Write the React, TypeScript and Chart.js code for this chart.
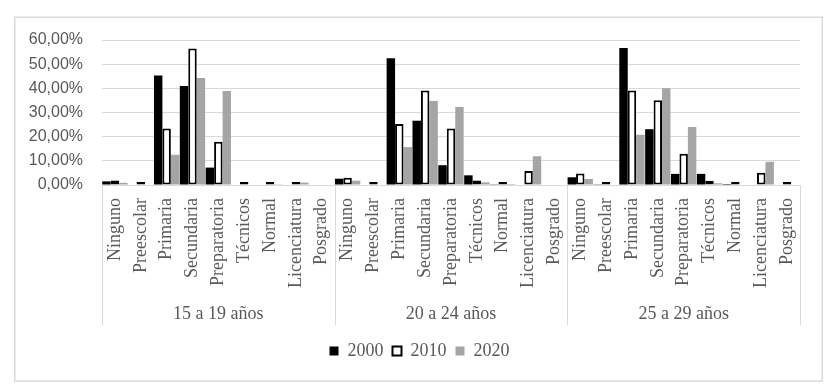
import { useEffect, useRef } from 'react';
import { Chart, registerables } from 'chart.js';

Chart.register(...registerables);

// ---- data ----
const categories = ['Ninguno', 'Preescolar', 'Primaria', 'Secundaria', 'Preparatoria', 'Técnicos', 'Normal', 'Licenciatura', 'Posgrado'];
const ageGroups = ['15 a 19 años', '20 a 24 años', '25 a 29 años'];
const seriesNames = ['2000', '2010', '2020'];

// values in %, order: 15 a 19 | 20 a 24 | 25 a 29 (each with the 9 categories)
const values2000 = [
  1.5, null, 45.3, 41.0, 7.2, null, null, null, null,
  2.6, null, 52.4, 26.6, 8.2, 4.0, 0.3, null, null,
  3.2, 0.3, 56.7, 23.1, 4.6, 4.6, 0.4, null, null,
];
const values2010 = [
  1.9, 0.2, 23.4, 56.5, 17.9, 0.2, 0.2, 0.3, null,
  3.0, 0.2, 25.2, 39.1, 23.4, 1.9, 1.2, 5.8, null,
  4.8, 0.3, 39.1, 35.1, 12.9, 1.8, 1.1, 5.1, 0.2,
];
const values2020 = [
  0.9, null, 12.5, 44.3, 38.9, 0.2, 0.1, 1.0, null,
  1.8, null, 15.7, 34.8, 32.3, 1.1, 0.4, 11.9, null,
  2.5, null, 20.8, 40.0, 24.0, 0.7, 0.2, 9.6, null,
];
const yTickLabels = ['0,00%', '10,00%', '20,00%', '30,00%', '40,00%', '50,00%', '60,00%'];

const GRID = '#d9d9d9';
const TEXT = '#595959';
const SERIF = '"Liberation Serif", "Times New Roman", serif';
const SANS = '"Liberation Sans", Arial, sans-serif';

export default function App() {
  const ref = useRef<HTMLCanvasElement>(null);

  useEffect(() => {
    const canvas = ref.current;
    if (!canvas) return;
    const labels = ageGroups.flatMap(() => categories);

    const framePlugin = {
      id: 'frameAndGroups',
      afterLayout(chart: any) {
        const lg = chart.legend;
        if (lg) {
          lg.left += 12.5;
          lg.right += 12.5;
        }
      },
      beforeDraw(chart: any) {
        const { ctx, width, height } = chart;
        ctx.save();
        ctx.fillStyle = '#ffffff';
        ctx.fillRect(0, 0, width, height);
        ctx.strokeStyle = GRID;
        ctx.lineWidth = 1.5;
        ctx.strokeRect(14.75, 17.25, 807.5, 363.75);
        ctx.restore();
      },
      afterDraw(chart: any) {
        const { ctx, chartArea } = chart;
        const x = chart.scales.x;
        const per = categories.length;
        const step = x.getPixelForValue(1) - x.getPixelForValue(0);
        ctx.save();
        ctx.strokeStyle = GRID;
        ctx.lineWidth = 1;
        for (let g = 0; g <= ageGroups.length; g++) {
          const px = Math.round(x.getPixelForValue(g * per) - step / 2) + 0.5;
          ctx.beginPath();
          ctx.moveTo(px, chartArea.bottom);
          ctx.lineTo(px, chartArea.bottom + 140);
          ctx.stroke();
        }
        ctx.fillStyle = TEXT;
        ctx.font = `18px ${SERIF}`;
        ctx.textAlign = 'center';
        ctx.textBaseline = 'middle';
        ageGroups.forEach((name, g) => {
          const cx = (x.getPixelForValue(g * per) + x.getPixelForValue(g * per + per - 1)) / 2;
          ctx.fillText(name, cx, chartArea.bottom + 129);
        });
        ctx.restore();
      },
    };

    const chart = new Chart(canvas, {
      type: 'bar',
      data: {
        labels,
        datasets: [
          { label: seriesNames[0], data: values2000, backgroundColor: '#000000', borderWidth: 0 },
          {
            label: seriesNames[1], data: values2010, backgroundColor: '#ffffff', borderColor: '#000000',
            borderWidth: 2, borderSkipped: false, minBarLength: 3,
          },
          { label: seriesNames[2], data: values2020, backgroundColor: '#a5a5a5', borderWidth: 0 },
        ] as any,
      },
      options: {
        responsive: false,
        animation: false,
        devicePixelRatio: 1,
        datasets: { bar: { categoryPercentage: 0.98, barPercentage: 1 } },
        layout: { padding: { left: 14, right: 36, top: 40, bottom: 22 } },
        plugins: {
          legend: {
            position: 'bottom',
            labels: {
              boxWidth: 9, boxHeight: 9, padding: 9, color: TEXT,
              font: { family: SERIF, size: 18 },
            },
          },
          tooltip: { enabled: false },
        },
        scales: {
          x: {
            grid: { display: false, drawTicks: false },
            border: { display: true, color: GRID, width: 1 },
            ticks: {
              autoSkip: false, minRotation: 90, maxRotation: 90, padding: 13,
              color: TEXT, font: { family: SERIF, size: 18 },
            },
            afterFit: (s: any) => { s.height = 148; },
          },
          y: {
            min: 0, max: 60,
            grid: { color: GRID, drawTicks: false },
            border: { display: false },
            ticks: {
              stepSize: 10, padding: 19, color: TEXT,
              font: { family: SANS, size: 16 },
              callback: (_v: any, i: number) => yTickLabels[i],
            },
            afterFit: (s: any) => { s.width = 102 - 14; },
          },
        },
      } as any,
      plugins: [framePlugin],
    });
    return () => chart.destroy();
  }, []);

  return (
    <div style={{ position: 'absolute', left: 0, top: 0, width: 836, height: 392 }}>
      <canvas ref={ref} width={836} height={392} style={{ display: 'block' }} />
    </div>
  );
}
